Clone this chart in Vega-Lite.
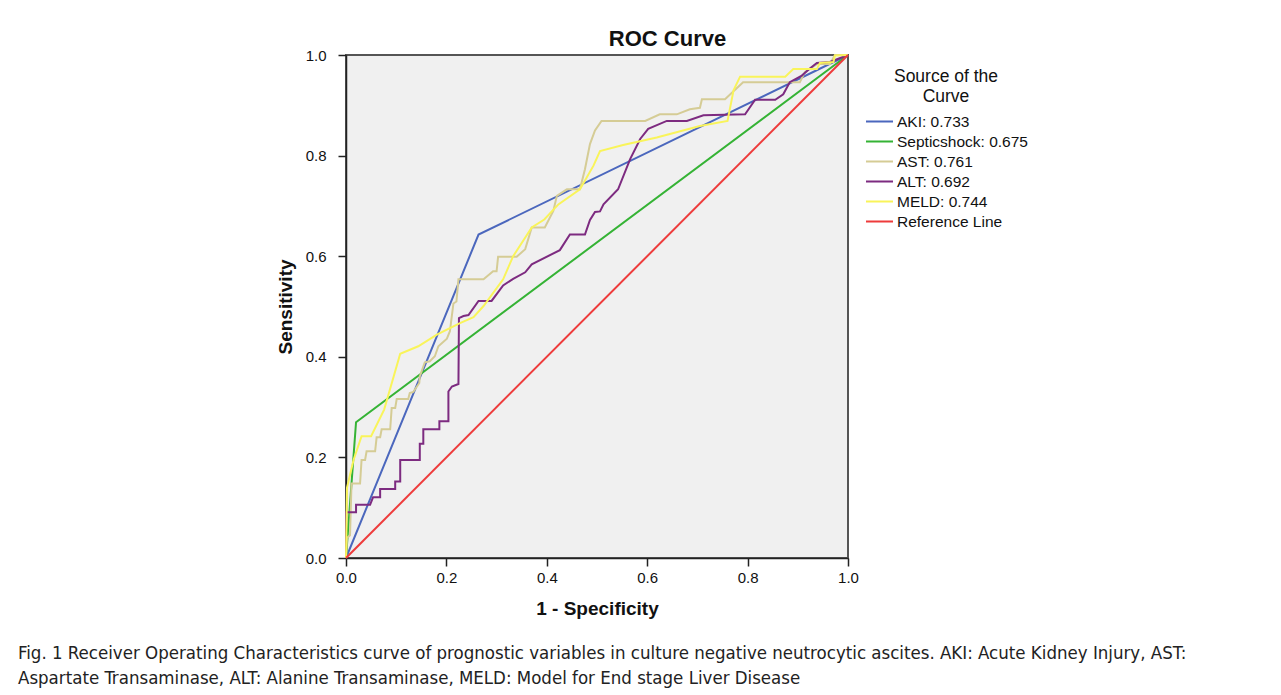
{
  "$schema": "https://vega.github.io/schema/vega-lite/v6.json",
  "width": 502,
  "height": 503,
  "autosize": {"type": "pad"},
  "padding": {"left": 18, "top": 27, "right": 0, "bottom": 0},
  "background": "white",
  "title": {
    "text": ["Fig. 1 Receiver Operating Characteristics curve of prognostic variables in culture negative neutrocytic ascites. AKI: Acute Kidney Injury, AST:", "Aspartate Transaminase, ALT: Alanine Transaminase, MELD: Model for End stage Liver Disease"],
    "orient": "bottom",
    "anchor": "start",
    "frame": "group",
    "dx": -328,
    "offset": 26,
    "font": "DejaVu Sans Condensed",
    "fontSize": 18.5,
    "fontWeight": "normal",
    "color": "#222222",
    "lineHeight": 25
  },
  "config": {
    "view": {"fill": "#f0f0f0", "stroke": "#555555", "strokeWidth": 2},
    "axis": {"grid": false, "labelFont": "Liberation Sans", "titleFont": "Liberation Sans", "labelColor": "#111111", "titleColor": "#111111", "domainColor": "#222222", "tickColor": "#222222", "domainWidth": 1.5, "tickWidth": 1.5, "tickSize": 8}
  },
  "datasets": {
    "roc": [
      {"s": "AKI: 0.733", "i": 0, "x": 0, "y": 0},
      {"s": "AKI: 0.733", "i": 1, "x": 0.264, "y": 0.643},
      {"s": "AKI: 0.733", "i": 2, "x": 1, "y": 1},
      {"s": "Septicshock: 0.675", "i": 0, "x": 0, "y": 0},
      {"s": "Septicshock: 0.675", "i": 1, "x": 0.02, "y": 0.27},
      {"s": "Septicshock: 0.675", "i": 2, "x": 1, "y": 1},
      {"s": "AST: 0.761", "i": 0, "x": 0, "y": 0},
      {"s": "AST: 0.761", "i": 1, "x": 0.002, "y": 0.04},
      {"s": "AST: 0.761", "i": 2, "x": 0.008, "y": 0.045},
      {"s": "AST: 0.761", "i": 3, "x": 0.011, "y": 0.148},
      {"s": "AST: 0.761", "i": 4, "x": 0.028, "y": 0.148},
      {"s": "AST: 0.761", "i": 5, "x": 0.031, "y": 0.195},
      {"s": "AST: 0.761", "i": 6, "x": 0.038, "y": 0.195},
      {"s": "AST: 0.761", "i": 7, "x": 0.041, "y": 0.212},
      {"s": "AST: 0.761", "i": 8, "x": 0.058, "y": 0.212},
      {"s": "AST: 0.761", "i": 9, "x": 0.061, "y": 0.24},
      {"s": "AST: 0.761", "i": 10, "x": 0.068, "y": 0.24},
      {"s": "AST: 0.761", "i": 11, "x": 0.071, "y": 0.256},
      {"s": "AST: 0.761", "i": 12, "x": 0.088, "y": 0.256},
      {"s": "AST: 0.761", "i": 13, "x": 0.091, "y": 0.298},
      {"s": "AST: 0.761", "i": 14, "x": 0.098, "y": 0.298},
      {"s": "AST: 0.761", "i": 15, "x": 0.101, "y": 0.316},
      {"s": "AST: 0.761", "i": 16, "x": 0.124, "y": 0.316},
      {"s": "AST: 0.761", "i": 17, "x": 0.127, "y": 0.328},
      {"s": "AST: 0.761", "i": 18, "x": 0.134, "y": 0.33},
      {"s": "AST: 0.761", "i": 19, "x": 0.146, "y": 0.348},
      {"s": "AST: 0.761", "i": 20, "x": 0.147, "y": 0.361},
      {"s": "AST: 0.761", "i": 21, "x": 0.157, "y": 0.389},
      {"s": "AST: 0.761", "i": 22, "x": 0.167, "y": 0.391},
      {"s": "AST: 0.761", "i": 23, "x": 0.177, "y": 0.401},
      {"s": "AST: 0.761", "i": 24, "x": 0.184, "y": 0.421},
      {"s": "AST: 0.761", "i": 25, "x": 0.201, "y": 0.436},
      {"s": "AST: 0.761", "i": 26, "x": 0.207, "y": 0.451},
      {"s": "AST: 0.761", "i": 27, "x": 0.214, "y": 0.506},
      {"s": "AST: 0.761", "i": 28, "x": 0.22, "y": 0.51},
      {"s": "AST: 0.761", "i": 29, "x": 0.224, "y": 0.554},
      {"s": "AST: 0.761", "i": 30, "x": 0.274, "y": 0.554},
      {"s": "AST: 0.761", "i": 31, "x": 0.293, "y": 0.57},
      {"s": "AST: 0.761", "i": 32, "x": 0.3, "y": 0.57},
      {"s": "AST: 0.761", "i": 33, "x": 0.303, "y": 0.599},
      {"s": "AST: 0.761", "i": 34, "x": 0.34, "y": 0.599},
      {"s": "AST: 0.761", "i": 35, "x": 0.357, "y": 0.614},
      {"s": "AST: 0.761", "i": 36, "x": 0.37, "y": 0.657},
      {"s": "AST: 0.761", "i": 37, "x": 0.396, "y": 0.657},
      {"s": "AST: 0.761", "i": 38, "x": 0.413, "y": 0.69},
      {"s": "AST: 0.761", "i": 39, "x": 0.42, "y": 0.72},
      {"s": "AST: 0.761", "i": 40, "x": 0.44, "y": 0.733},
      {"s": "AST: 0.761", "i": 41, "x": 0.466, "y": 0.733},
      {"s": "AST: 0.761", "i": 42, "x": 0.476, "y": 0.773},
      {"s": "AST: 0.761", "i": 43, "x": 0.486, "y": 0.823},
      {"s": "AST: 0.761", "i": 44, "x": 0.496, "y": 0.85},
      {"s": "AST: 0.761", "i": 45, "x": 0.509, "y": 0.869},
      {"s": "AST: 0.761", "i": 46, "x": 0.596, "y": 0.869},
      {"s": "AST: 0.761", "i": 47, "x": 0.625, "y": 0.882},
      {"s": "AST: 0.761", "i": 48, "x": 0.659, "y": 0.882},
      {"s": "AST: 0.761", "i": 49, "x": 0.685, "y": 0.892},
      {"s": "AST: 0.761", "i": 50, "x": 0.705, "y": 0.895},
      {"s": "AST: 0.761", "i": 51, "x": 0.709, "y": 0.912},
      {"s": "AST: 0.761", "i": 52, "x": 0.755, "y": 0.912},
      {"s": "AST: 0.761", "i": 53, "x": 0.791, "y": 0.946},
      {"s": "AST: 0.761", "i": 54, "x": 0.904, "y": 0.946},
      {"s": "AST: 0.761", "i": 55, "x": 0.914, "y": 0.966},
      {"s": "AST: 0.761", "i": 56, "x": 0.938, "y": 0.982},
      {"s": "AST: 0.761", "i": 57, "x": 0.964, "y": 0.982},
      {"s": "AST: 0.761", "i": 58, "x": 0.974, "y": 1},
      {"s": "AST: 0.761", "i": 59, "x": 1, "y": 1},
      {"s": "ALT: 0.692", "i": 0, "x": 0, "y": 0},
      {"s": "ALT: 0.692", "i": 1, "x": 0, "y": 0.091},
      {"s": "ALT: 0.692", "i": 2, "x": 0.02, "y": 0.091},
      {"s": "ALT: 0.692", "i": 3, "x": 0.02, "y": 0.106},
      {"s": "ALT: 0.692", "i": 4, "x": 0.048, "y": 0.106},
      {"s": "ALT: 0.692", "i": 5, "x": 0.054, "y": 0.121},
      {"s": "ALT: 0.692", "i": 6, "x": 0.068, "y": 0.121},
      {"s": "ALT: 0.692", "i": 7, "x": 0.068, "y": 0.137},
      {"s": "ALT: 0.692", "i": 8, "x": 0.098, "y": 0.137},
      {"s": "ALT: 0.692", "i": 9, "x": 0.098, "y": 0.152},
      {"s": "ALT: 0.692", "i": 10, "x": 0.108, "y": 0.152},
      {"s": "ALT: 0.692", "i": 11, "x": 0.108, "y": 0.195},
      {"s": "ALT: 0.692", "i": 12, "x": 0.147, "y": 0.195},
      {"s": "ALT: 0.692", "i": 13, "x": 0.147, "y": 0.227},
      {"s": "ALT: 0.692", "i": 14, "x": 0.154, "y": 0.227},
      {"s": "ALT: 0.692", "i": 15, "x": 0.154, "y": 0.256},
      {"s": "ALT: 0.692", "i": 16, "x": 0.186, "y": 0.256},
      {"s": "ALT: 0.692", "i": 17, "x": 0.186, "y": 0.272},
      {"s": "ALT: 0.692", "i": 18, "x": 0.204, "y": 0.272},
      {"s": "ALT: 0.692", "i": 19, "x": 0.204, "y": 0.331},
      {"s": "ALT: 0.692", "i": 20, "x": 0.211, "y": 0.341},
      {"s": "ALT: 0.692", "i": 21, "x": 0.224, "y": 0.346},
      {"s": "ALT: 0.692", "i": 22, "x": 0.225, "y": 0.477},
      {"s": "ALT: 0.692", "i": 23, "x": 0.234, "y": 0.481},
      {"s": "ALT: 0.692", "i": 24, "x": 0.244, "y": 0.483},
      {"s": "ALT: 0.692", "i": 25, "x": 0.264, "y": 0.511},
      {"s": "ALT: 0.692", "i": 26, "x": 0.29, "y": 0.511},
      {"s": "ALT: 0.692", "i": 27, "x": 0.313, "y": 0.542},
      {"s": "ALT: 0.692", "i": 28, "x": 0.333, "y": 0.555},
      {"s": "ALT: 0.692", "i": 29, "x": 0.357, "y": 0.568},
      {"s": "ALT: 0.692", "i": 30, "x": 0.37, "y": 0.584},
      {"s": "ALT: 0.692", "i": 31, "x": 0.426, "y": 0.612},
      {"s": "ALT: 0.692", "i": 32, "x": 0.446, "y": 0.643},
      {"s": "ALT: 0.692", "i": 33, "x": 0.476, "y": 0.643},
      {"s": "ALT: 0.692", "i": 34, "x": 0.486, "y": 0.672},
      {"s": "ALT: 0.692", "i": 35, "x": 0.496, "y": 0.688},
      {"s": "ALT: 0.692", "i": 36, "x": 0.506, "y": 0.689},
      {"s": "ALT: 0.692", "i": 37, "x": 0.513, "y": 0.703},
      {"s": "ALT: 0.692", "i": 38, "x": 0.542, "y": 0.733},
      {"s": "ALT: 0.692", "i": 39, "x": 0.566, "y": 0.793},
      {"s": "ALT: 0.692", "i": 40, "x": 0.586, "y": 0.833},
      {"s": "ALT: 0.692", "i": 41, "x": 0.602, "y": 0.853},
      {"s": "ALT: 0.692", "i": 42, "x": 0.639, "y": 0.869},
      {"s": "ALT: 0.692", "i": 43, "x": 0.679, "y": 0.869},
      {"s": "ALT: 0.692", "i": 44, "x": 0.712, "y": 0.88},
      {"s": "ALT: 0.692", "i": 45, "x": 0.795, "y": 0.882},
      {"s": "ALT: 0.692", "i": 46, "x": 0.815, "y": 0.911},
      {"s": "ALT: 0.692", "i": 47, "x": 0.855, "y": 0.911},
      {"s": "ALT: 0.692", "i": 48, "x": 0.871, "y": 0.922},
      {"s": "ALT: 0.692", "i": 49, "x": 0.884, "y": 0.946},
      {"s": "ALT: 0.692", "i": 50, "x": 0.908, "y": 0.959},
      {"s": "ALT: 0.692", "i": 51, "x": 0.924, "y": 0.973},
      {"s": "ALT: 0.692", "i": 52, "x": 0.938, "y": 0.984},
      {"s": "ALT: 0.692", "i": 53, "x": 0.964, "y": 0.986},
      {"s": "ALT: 0.692", "i": 54, "x": 1, "y": 1},
      {"s": "MELD: 0.744", "i": 0, "x": 0, "y": 0},
      {"s": "MELD: 0.744", "i": 1, "x": 0.002, "y": 0.14},
      {"s": "MELD: 0.744", "i": 2, "x": 0.015, "y": 0.195},
      {"s": "MELD: 0.744", "i": 3, "x": 0.031, "y": 0.242},
      {"s": "MELD: 0.744", "i": 4, "x": 0.05, "y": 0.242},
      {"s": "MELD: 0.744", "i": 5, "x": 0.076, "y": 0.295},
      {"s": "MELD: 0.744", "i": 6, "x": 0.108, "y": 0.406},
      {"s": "MELD: 0.744", "i": 7, "x": 0.144, "y": 0.421},
      {"s": "MELD: 0.744", "i": 8, "x": 0.181, "y": 0.444},
      {"s": "MELD: 0.744", "i": 9, "x": 0.227, "y": 0.467},
      {"s": "MELD: 0.744", "i": 10, "x": 0.254, "y": 0.479},
      {"s": "MELD: 0.744", "i": 11, "x": 0.274, "y": 0.501},
      {"s": "MELD: 0.744", "i": 12, "x": 0.313, "y": 0.554},
      {"s": "MELD: 0.744", "i": 13, "x": 0.333, "y": 0.6},
      {"s": "MELD: 0.744", "i": 14, "x": 0.37, "y": 0.657},
      {"s": "MELD: 0.744", "i": 15, "x": 0.395, "y": 0.673},
      {"s": "MELD: 0.744", "i": 16, "x": 0.423, "y": 0.703},
      {"s": "MELD: 0.744", "i": 17, "x": 0.466, "y": 0.733},
      {"s": "MELD: 0.744", "i": 18, "x": 0.493, "y": 0.78},
      {"s": "MELD: 0.744", "i": 19, "x": 0.506, "y": 0.809},
      {"s": "MELD: 0.744", "i": 20, "x": 0.552, "y": 0.821},
      {"s": "MELD: 0.744", "i": 21, "x": 0.619, "y": 0.836},
      {"s": "MELD: 0.744", "i": 22, "x": 0.705, "y": 0.859},
      {"s": "MELD: 0.744", "i": 23, "x": 0.76, "y": 0.869},
      {"s": "MELD: 0.744", "i": 24, "x": 0.772, "y": 0.93},
      {"s": "MELD: 0.744", "i": 25, "x": 0.785, "y": 0.957},
      {"s": "MELD: 0.744", "i": 26, "x": 0.875, "y": 0.957},
      {"s": "MELD: 0.744", "i": 27, "x": 0.891, "y": 0.972},
      {"s": "MELD: 0.744", "i": 28, "x": 0.938, "y": 0.972},
      {"s": "MELD: 0.744", "i": 29, "x": 0.944, "y": 0.984},
      {"s": "MELD: 0.744", "i": 30, "x": 0.971, "y": 0.986},
      {"s": "MELD: 0.744", "i": 31, "x": 0.974, "y": 0.999},
      {"s": "MELD: 0.744", "i": 32, "x": 1, "y": 1},
      {"s": "Reference Line", "i": 0, "x": 0, "y": 0},
      {"s": "Reference Line", "i": 1, "x": 1, "y": 1}
    ],
    "top": [{"v": 0}]
  },
  "resolve": {"axis": {"x": "independent"}},
  "layer": [
    {
      "data": {"name": "roc"},
      "mark": {"type": "line", "strokeWidth": 2, "interpolate": "linear"},
      "encoding": {
        "x": {"field": "x", "type": "quantitative", "scale": {"domain": [0, 1], "nice": false, "zero": false},
          "axis": {"orient": "bottom", "values": [0, 0.2, 0.4, 0.6, 0.8, 1], "format": ".1f", "title": "1 - Specificity", "titleFontSize": 19, "titleFontWeight": "bold", "labelFontSize": 15, "labelPadding": 4, "titlePadding": 14, "labelFlush": false}},
        "y": {"field": "y", "type": "quantitative", "scale": {"domain": [0, 1], "nice": false, "zero": false},
          "axis": {"values": [0, 0.2, 0.4, 0.6, 0.8, 1], "format": ".1f", "title": "Sensitivity", "titleFontSize": 19, "titleFontWeight": "bold", "labelFontSize": 15, "labelPadding": 12, "titlePadding": 10, "labelFlush": false}},
        "color": {"field": "s", "type": "nominal",
          "scale": {"domain": ["AKI: 0.733", "Septicshock: 0.675", "AST: 0.761", "ALT: 0.692", "MELD: 0.744", "Reference Line"], "range": ["#4b67bd", "#35b335", "#d5cc95", "#7d2b80", "#f9f45a", "#ee3b3b"]},
          "legend": {"orient": "none", "legendX": 519, "legendY": 13, "title": ["Source of the", "Curve"], "titleFont": "Liberation Sans", "titleFontSize": 17.5, "titleFontWeight": "normal", "titleColor": "#111111", "titleAlign": "center", "titleAnchor": "middle", "titleLineHeight": 20, "titlePadding": 6, "labelFont": "Liberation Sans", "labelFontSize": 15.5, "labelColor": "#111111", "labelOffset": 3, "symbolType": "stroke", "symbolSize": 729, "symbolStrokeWidth": 2, "clipHeight": 20, "rowPadding": 0}},
        "order": {"field": "i", "type": "quantitative"}
      }
    },
    {
      "data": {"name": "top"},
      "mark": {"type": "rule", "opacity": 0},
      "encoding": {
        "x": {"field": "v", "type": "quantitative", "scale": {"domain": [0, 1], "nice": false, "zero": false},
          "axis": {"orient": "top", "title": "ROC Curve", "labels": false, "ticks": false, "domain": false, "titleFontSize": 22, "titleFontWeight": "bold", "titleX": 321, "titleY": -10, "titleBaseline": "alphabetic", "titleAlign": "center"}}
      }
    }
  ]
}
